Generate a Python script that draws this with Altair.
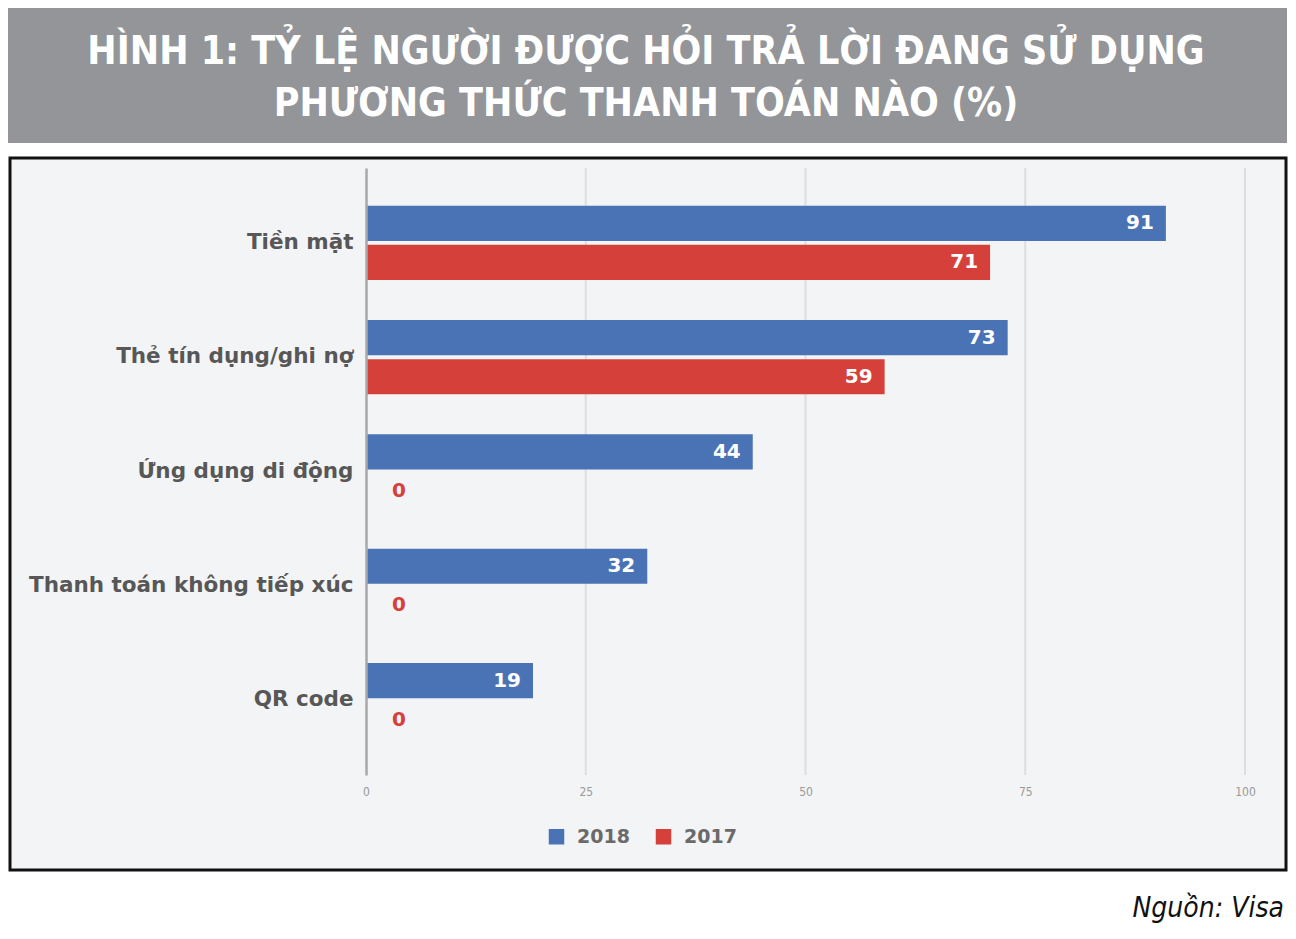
import altair as alt
import pandas as pd

categories = ["Tiền mặt", "Thẻ tín dụng/ghi nợ", "Ứng dụng di động",
              "Thanh toán không tiếp xúc", "QR code"]
years = ["2018", "2017"]
values_2018 = [91, 73, 44, 32, 19]
values_2017 = [71, 59, 0, 0, 0]
x_ticks = [0, 25, 50, 75, 100]
grid_ticks = [25, 50, 75, 100]
title_lines = ["HÌNH 1: TỶ LỆ NGƯỜI ĐƯỢC HỎI TRẢ LỜI ĐANG SỬ DỤNG",
               "PHƯƠNG THỨC THANH TOÁN NÀO (%)"]
source_text = ["Nguồn: Visa"]
colors = ["#4a73b6", "#d5413a"]

rows = []
for c, a, b in zip(categories, values_2018, values_2017):
    rows.append({"cat": c, "year": "2018", "value": a})
    rows.append({"cat": c, "year": "2017", "value": b})
df = pd.DataFrame(rows)

W, H = 879, 607
one = pd.DataFrame({"k": [0]})
LBL_FONT = "DejaVu Sans, Liberation Sans, Arial, sans-serif"

x_axis = alt.Axis(values=x_ticks, grid=False, domain=False, ticks=False,
                  labelFontSize=12, labelColor="#9a9a9a", labelPadding=11,
                  labelFlush=False,
                  labelFont="DejaVu Sans Condensed, Liberation Sans, sans-serif", zindex=1)
y_enc = alt.Y("cat:N", sort=categories, title=None,
              scale=alt.Scale(paddingInner=0.35, paddingOuter=0.33),
              axis=alt.Axis(domainColor="#a8a8a8", domainWidth=2.5, ticks=False,
                            labelFontSize=21.5, labelFontWeight="bold", labelColor="#575757",
                            labelFont=LBL_FONT, labelLimit=500,
                            labelPadding=13, zindex=1))
yoff = alt.YOffset("year:N", sort=years, scale=alt.Scale(paddingInner=0.1))
x_scale = alt.Scale(domain=[0, 100], nice=False)

banner = alt.Chart(one).mark_rect(color="#939598").encode(
    x=alt.value(-358), x2=alt.value(921), y=alt.value(-160), y2=alt.value(-25))

box = alt.Chart(one).mark_rect(fill="#f3f4f6", stroke="#111111", strokeWidth=3).encode(
    x=alt.value(-356), x2=alt.value(920), y=alt.value(-10), y2=alt.value(702))

title_df = pd.DataFrame({"line": title_lines, "ypos": [-104, -52]})
title = alt.Chart(title_df).mark_text(
    color="white", fontSize=39, fontWeight="bold", align="center", baseline="alphabetic",
    font="Liberation Sans Narrow, DejaVu Sans Condensed, Roboto, sans-serif").encode(
    x=alt.value(280), y=alt.Y("ypos:Q", scale=None), text="line:N")

source = alt.Chart(pd.DataFrame({"s": source_text})).mark_text(
    color="#111111", fontSize=28, fontStyle="italic", align="right", baseline="alphabetic",
    font="Liberation Sans Narrow, DejaVu Sans Condensed, sans-serif").encode(
    x=alt.value(918), y=alt.value(749), text="s:N")

grid = alt.Chart(pd.DataFrame({"g": grid_ticks})).mark_rule(
    color="#dedede", strokeWidth=2).encode(
    x=alt.X("g:Q", scale=x_scale, axis=x_axis, title=None), y=alt.value(0), y2=alt.value(H))

bars = alt.Chart(df).mark_bar().encode(
    x=alt.X("value:Q", title=None, scale=x_scale, axis=x_axis),
    y=y_enc, yOffset=yoff,
    color=alt.Color("year:N", sort=years,
                    scale=alt.Scale(domain=years, range=colors),
                    legend=alt.Legend(title=None, orient="none", direction="horizontal",
                                      legendX=181, legendY=659, symbolType="square",
                                      symbolSize=240, symbolStrokeWidth=0,
                                      labelFontSize=19, labelFontWeight="bold",
                                      labelColor="#6a6a6a", labelOffset=11,
                                      columnPadding=24, padding=0,
                                      labelFont=LBL_FONT)))

lab_pos = alt.Chart(df).transform_filter("datum.value > 0").mark_text(
    align="right", baseline="middle", dx=-12, color="white", fontSize=20,
    fontWeight="bold", font=LBL_FONT).encode(
    x="value:Q", y=alt.Y("cat:N", sort=categories), yOffset=alt.YOffset("year:N", sort=years),
    text="value:Q")

lab_zero = alt.Chart(df).transform_filter("datum.value == 0").mark_text(
    align="left", baseline="middle", dx=26, color="#d5413a", fontSize=20,
    fontWeight="bold", font=LBL_FONT).encode(
    x="value:Q", y=alt.Y("cat:N", sort=categories), yOffset=alt.YOffset("year:N", sort=years),
    text="value:Q")

chart = alt.layer(banner, box, title, source, grid, bars, lab_pos, lab_zero).properties(
    width=W, height=H,
    autosize=alt.AutoSizeParams(type="none"),
    padding={"left": 358, "top": 160, "right": 43, "bottom": 153},
    background="white",
).configure_view(stroke=None)

chart.save("out.html", embed_options={"renderer": "svg", "actions": False})
